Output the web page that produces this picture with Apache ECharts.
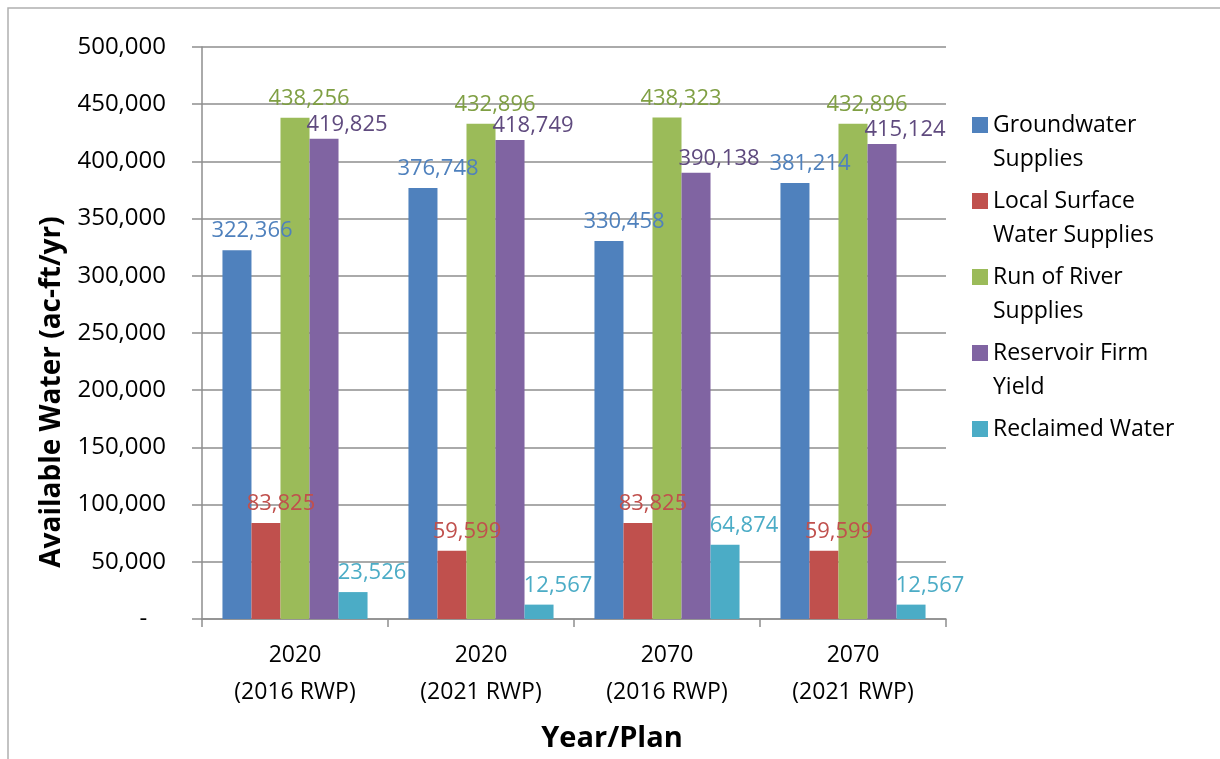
<!DOCTYPE html>
<html>
<head>
<meta charset="utf-8">
<script src="https://cdn.jsdelivr.net/npm/echarts@6/dist/echarts.min.js"></script>
<style>
  html, body { margin: 0; padding: 0; background: #fff; }
  #chart { width: 1220px; height: 759px; }
</style>
</head>
<body>
<div id="chart"></div>
<script>
// 数据
var categories = ['2020\n(2016 RWP)', '2020\n(2021 RWP)', '2070\n(2016 RWP)', '2070\n(2021 RWP)'];
var seriesNames = ['Groundwater Supplies', 'Local Surface Water Supplies', 'Run of River Supplies', 'Reservoir Firm Yield', 'Reclaimed Water'];
// 图例换行文字（前后空行让图标对齐第一行）
var legendText = ['\nGroundwater\nSupplies', '\nLocal Surface\nWater Supplies', '\nRun of River\nSupplies', '\nReservoir Firm\nYield', '\nReclaimed Water\n '];
var groundwater = [322366, 376748, 330458, 381214];
var localSurface = [83825, 59599, 83825, 59599];
var runOfRiver = [438256, 432896, 438323, 432896];
var reservoir = [419825, 418749, 390138, 415124];
var reclaimed = [23526, 12567, 64874, 12567];
var yTicks = [0, 50000, 100000, 150000, 200000, 250000, 300000, 350000, 400000, 450000, 500000];

var font = 'Open Sans';
var barColors = ['#4F81BD', '#C0504D', '#9BBB59', '#8064A2', '#4BACC6'];
var labelColors = ['#4F81BD', '#C0504D', '#7F9F43', '#5F4A7E', '#4BACC6'];
var labelShift = [15, 15, 14, 23, 19];
var labelDist = [8, 8, 8, 3, 8];

var myChart = echarts.init(document.getElementById('chart'));

function fmt(v) {
    return v.toLocaleString('en-US');
}

var allValues = [groundwater, localSurface, runOfRiver, reservoir, reclaimed];
var series = allValues.map(function(vals, i) {
    return {
        name: seriesNames[i],
        type: 'bar',
        data: vals,
        barGap: '0%',
        barCategoryGap: '22%',
        itemStyle: { color: barColors[i] },
        label: {
            show: true,
            position: 'top',
            distance: labelDist[i],
            offset: [labelShift[i], 0],
            color: labelColors[i],
            fontFamily: font,
            fontSize: 22,
            formatter: function(p) { return fmt(p.value); }
        }
    };
});

var option = {
    backgroundColor: '#fff',
    animation: false,
    // 外边框
    graphic: [{
        type: 'rect',
        shape: { x: 8, y: 8, width: 1240, height: 800 },
        style: { fill: 'none', stroke: '#b0b0b0', lineWidth: 1.5 },
        silent: true
    }],
    grid: { left: 202, right: 274, top: 47, bottom: 140 },
    legend: {
        orient: 'vertical',
        left: 967,
        top: 69,
        itemWidth: 16,
        itemHeight: 16,
        itemGap: -26,
        icon: 'rect',
        textStyle: { fontFamily: font, fontSize: 23, lineHeight: 34, color: '#000' },
        formatter: function(name) {
            return legendText[seriesNames.indexOf(name)];
        },
        data: seriesNames
    },
    xAxis: {
        type: 'category',
        data: categories,
        name: 'Year/Plan',
        nameLocation: 'middle',
        nameGap: 105,
        nameTextStyle: { fontFamily: font, fontSize: 29, fontWeight: 'bold', color: '#000', padding: [0, 0, 0, 76] },
        axisLine: { lineStyle: { color: '#8e8e8e', width: 1.5 } },
        axisTick: { show: true, length: 8, lineStyle: { color: '#8e8e8e', width: 1.5 } },
        axisLabel: { fontFamily: font, fontSize: 23, lineHeight: 37, color: '#000', margin: 18 }
    },
    yAxis: {
        type: 'value',
        min: 0,
        max: 500000,
        interval: 50000,
        name: 'Available Water (ac-ft/yr)',
        nameLocation: 'middle',
        nameGap: 136,
        nameTextStyle: { fontFamily: font, fontSize: 28, fontWeight: 'bold', color: '#000', padding: [0, 118, 0, 0] },
        axisLine: { show: true, lineStyle: { color: '#8e8e8e', width: 1.5 } },
        axisTick: { show: true, length: 10, lineStyle: { color: '#8e8e8e', width: 1.5 } },
        splitLine: { lineStyle: { color: '#8e8e8e', width: 1.5 } },
        axisLabel: {
            fontFamily: font,
            fontSize: 24,
            color: '#000',
            margin: 36,
            formatter: function(v) {
                if (yTicks.indexOf(v) < 0) return '';
                return v === 0 ? '-   ' : fmt(v);
            }
        }
    },
    series: series
};

myChart.setOption(option);
</script>
</body>
</html>
